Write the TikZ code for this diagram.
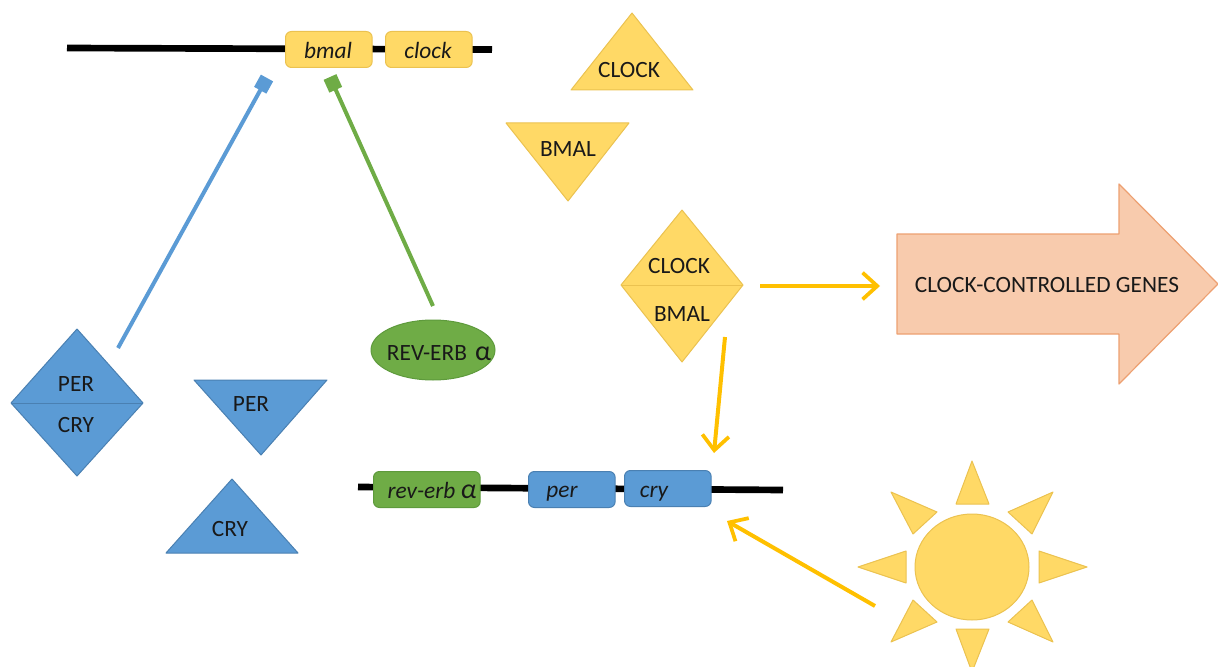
\documentclass[tikz,border=0pt]{standalone}
\usepackage{fontspec}
\setmainfont{Carlito}
\usetikzlibrary{arrows.meta,shapes.geometric}
\definecolor{sunY}{HTML}{FFD966}
\definecolor{sunE}{HTML}{EBC250}
\definecolor{blueF}{HTML}{5B9BD5}
\definecolor{blueE}{HTML}{4A80B2}
\definecolor{greenF}{HTML}{6FAC46}
\definecolor{greenE}{HTML}{5E9A3C}
\definecolor{peachF}{HTML}{F8CBAD}
\definecolor{peachE}{HTML}{EDA071}
\definecolor{arrowY}{HTML}{FFC000}
\newcommand{\bigalpha}{{\fontsize{21}{21}\selectfont α}}
\tikzset{
  x=0.75pt,y=-0.75pt,
  lab/.style={inner sep=0pt,font=\fontsize{17.5}{19}\selectfont,text=black!90},
  genelab/.style={lab,font=\fontsize{17.5}{19}\selectfont\itshape},
  yshape/.style={fill=sunY,draw=sunE,line width=0.75pt,line join=round},
  bshape/.style={fill=blueF,draw=blueE,line width=0.75pt,line join=round},
  dna/.style={line width=5pt,black},
  genebox/.style={rounded corners=4.5pt,line width=0.75pt,minimum height=27pt,inner sep=0pt,anchor=north west},
  ybox/.style={genebox,fill=sunY,draw=sunE,minimum width=65pt},
  bbox/.style={genebox,fill=blueF,draw=blueE,minimum width=65pt},
  gbox/.style={genebox,fill=greenF,draw=greenE,minimum width=80pt},
  inhib/.style={line width=3pt,-{Square[length=10.5pt,width=10.5pt]}},
  act/.style={line width=3pt,arrowY,-{Straight Barb[length=11pt,width=20pt,line width=2.8pt]}},
}
\begin{document}
\begin{tikzpicture}
\path[use as bounding box] (0,0) rectangle (1218,667);
\clip (0,0) rectangle (1218,667);
% DNA strands
\coordinate (t1) at (67,48); \coordinate (t2) at (492,49.5);
\coordinate (b1) at (358,487); \coordinate (b2) at (783,490);
\draw[dna] (t1) -- (t2);
\draw[dna] (b1) -- (b2);
% gene boxes
\node[ybox] (bmal) at (285,31) {}; 
\node[ybox] (clock) at (385,31) {};
\node[gbox] (rev) at (373,471) {};
\node[bbox] (per) at (528,471) {};
\node[bbox] (cry) at (624,470) {};
\node[genelab] (bmalT) at (328,50) {bmal};
\node[genelab] (clockT) at (428,50) {clock};
\node[genelab] (revT) at (432,490) {rev-erb \bigalpha};
\node[genelab] (perT) at (562,494) {per};
\node[genelab] (cryT) at (654,494) {cry};
% yellow triangles
\path[yshape] (632,13) -- (693,90) -- (571,90) -- cycle;
\node[lab] (clockP) at (629,70) {CLOCK};
\path[yshape] (506,123) -- (629,123) -- (568,201) -- cycle;
\node[lab] (bmalP) at (568,149) {BMAL};
% clock/bmal dimer
\path[yshape] (682,210) -- (743,285) -- (682,362) -- (621,285) -- cycle;
\draw[sunE,line width=0.75pt] (621,285) -- (743,285);
\node[lab] (dimerA) at (679,266) {CLOCK};
\node[lab] (dimerB) at (682,314) {BMAL};
% blue triangles
\path[bshape] (194,380) -- (327,380) -- (261,455) -- cycle;
\node[lab] (perP) at (251,404) {PER};
\path[bshape] (232,479) -- (298,553) -- (166,553) -- cycle;
\node[lab] (cryP) at (230,529) {CRY};
% per/cry dimer
\path[bshape] (77,329) -- (143,403) -- (77,476) -- (11,403) -- cycle;
\draw[blueE,line width=0.75pt] (11,403) -- (143,403);
\node[lab] (dimerC) at (76,384) {PER};
\node[lab] (dimerD) at (76,425) {CRY};
% rev-erb
\node[ellipse,fill=greenF,draw=greenE,line width=0.75pt,minimum width=93pt,minimum height=45pt,inner sep=0pt] (revP) at (433,350) {};
\node[lab] (revL) at (439,353) {REV-ERB\hspace{0.35em}\bigalpha};
% big arrow
\path[fill=peachF,draw=peachE,line width=0.9pt,line join=round] (897,234) -- (1119,234) -- (1119,184) -- (1218,284) -- (1119,384) -- (1119,334) -- (897,334) -- cycle;
\node[lab] (genes) at (1047,285) {CLOCK-CONTROLLED GENES};
% sun
\node[ellipse,fill=sunY,draw=sunE,line width=0.75pt,minimum width=85.5pt,minimum height=79.5pt,inner sep=0pt] (sun) at (972,567) {};
\path[yshape] (972,461) -- (989,504) -- (956,504) -- cycle;
\path[yshape] (1087,567) -- (1039,551) -- (1039,583) -- cycle;
\path[yshape] (858,567) -- (906,551) -- (906,583) -- cycle;
\path[yshape] (956,629) -- (989,629) -- (972,672) -- cycle;
\path[yshape] (1053,492) -- (1008,512) -- (1032,534) -- cycle;
\path[yshape] (891,492) -- (937,512) -- (913,534) -- cycle;
\path[yshape] (1053,642) -- (1008,622) -- (1032,600) -- cycle;
\path[yshape] (891,642) -- (937,622) -- (913,600) -- cycle;
% connector ends
\coordinate (perS) at (118,348); \coordinate (perE) at (267,78);
\coordinate (revS) at (433,306); \coordinate (revE) at (330,77);
\coordinate (a1s) at (760,286); \coordinate (a1e) at (880,286);
\coordinate (a2s) at (725,337); \coordinate (a2e) at (714,453);
\coordinate (a3s) at (875,606); \coordinate (a3e) at (727,521);
\draw[inhib,color=blueF] (perS) -- (perE);
\draw[inhib,color=greenF] (revS) -- (revE);
\draw[act] (a1s) -- (a1e);
\draw[act] (a2s) -- (a2e);
\draw[act] (a3s) -- (a3e);
\end{tikzpicture}
\end{document}
